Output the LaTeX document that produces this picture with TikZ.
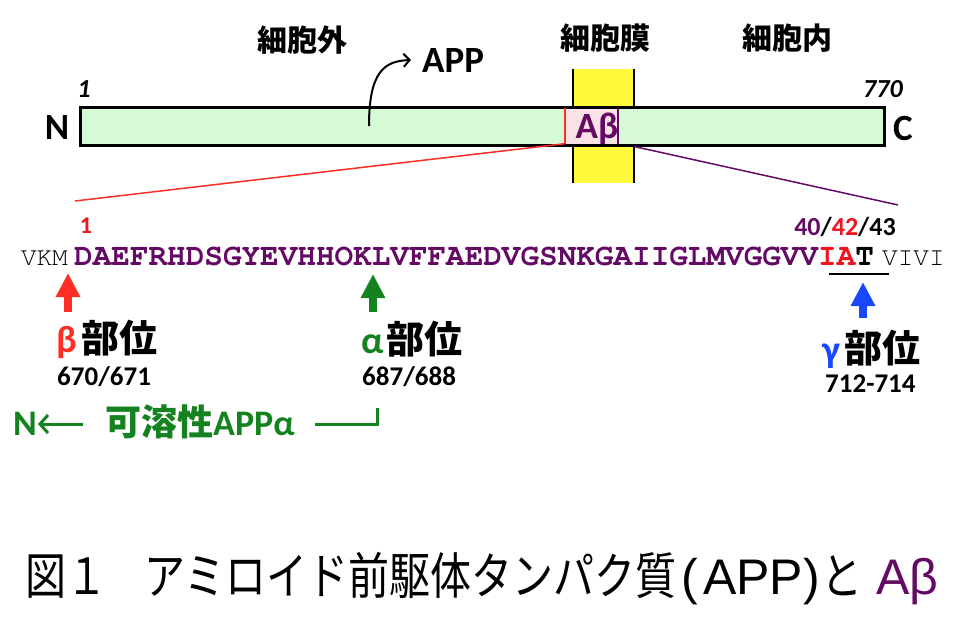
\documentclass[tikz,border=0pt]{standalone}
\usepackage{fontspec}
\usetikzlibrary{arrows.meta}
\setmainfont{Carlito}
\newfontfamily\jpfont{Noto Sans CJK JP}
\newfontfamily\capsans{Liberation Sans}
\newfontfamily\seqfont{texgyrecursor}[Extension=.otf, UprightFont=*-regular, BoldFont=*-bold]
\definecolor{barfill}{RGB}{214,250,214}
\definecolor{abfill}{RGB}{248,226,230}
\definecolor{memfill}{RGB}{255,250,60}
\definecolor{abpurple}{RGB}{100,10,100}
\definecolor{cutred}{RGB}{255,45,35}
\definecolor{seqred}{RGB}{240,20,30}
\definecolor{cutgreen}{RGB}{20,130,30}
\definecolor{cutblue}{RGB}{25,70,255}
\tikzset{
	every node/.style={
		inner sep=0pt,
		font=\bfseries
	},
	region/.style={
		font=\jpfont\bfseries\fontsize{30}{30}\selectfont
	},
	membrane/.style={
		shape=rectangle,
		minimum width=61pt,
		minimum height=114pt,
		fill=memfill
	},
	memline/.style={line width=2.5pt},
	appbar/.style={
		shape=rectangle,
		minimum width=804pt,
		minimum height=38pt,
		fill=barfill,
		draw,
		line width=3pt
	},
	abregion/.style={
		shape=rectangle,
		minimum width=53pt,
		minimum height=35pt,
		fill=abfill
	},
	bigname/.style={font=\bfseries\fontsize{37}{37}\selectfont},
	endnum/.style={font=\bfseries\itshape\fontsize{26}{26}\selectfont},
	seqbold/.style={font=\seqfont\bfseries\fontsize{31}{31}\selectfont},
	seqplain/.style={font=\seqfont\fontsize{26}{26}\selectfont},
	sitename/.style={font=\bfseries\fontsize{38}{38}\selectfont},
	greentext/.style={font=\bfseries\fontsize{36}{36}\selectfont, cutgreen},
	sitenum/.style={font=\bfseries\fontsize{27}{27}\selectfont},
	sitearrow/.style={-{Triangle[length=24pt,width=23pt]}, line width=8.5pt},
	curvearrow/.style={-{Straight Barb[length=6pt,width=13pt]}, line width=2pt},
	greenline/.style={cutgreen, line width=3pt},
}
\newcommand{\narrowjp}[1]{\scalebox{0.82}[1]{\jpfont #1}}

\begin{document}
\begin{tikzpicture}[x=1pt, y=-1pt]
\useasboundingbox (0,0) rectangle (959,622);

% membrane and APP bar
\node [membrane] (mem) at (603.5,126) {};
\draw [memline] (mem.north west) -- (mem.south west);
\draw [memline] (mem.north east) -- (mem.south east);
\node [appbar] (app) at (482,126) {};
\node [abregion] (abeta) at (591.5,126) {};
\draw [cutred, line width=2pt] (abeta.north west) -- (abeta.south west);
\draw [abpurple, line width=2pt] (abeta.north east) -- (abeta.south east);
\node [bigname, abpurple, anchor=base] (abtext) at (597,138) {Aβ};

\node [region] (outside) at (302,40) {細胞外};
\node [region] (membr) at (605,38) {細胞膜};
\node [region] (inside) at (787,38) {細胞内};

\node [bigname, anchor=base west] (appname) at (422,72) {APP};
\coordinate (curvefoot) at (369,126);
\draw [curvearrow] (curvefoot) .. controls (369,72) and (384,61) .. ([xshift=-11pt]appname.west);

\node [endnum, anchor=base] (first) at (84,97) {1};
\node [endnum, anchor=base] (last) at (883,97) {770};
\node [bigname, anchor=base] (nterm) at (57,139) {N};
\node [bigname, anchor=base] (cterm) at (903,140) {C};

% sequence
\node [seqplain, anchor=base east] (pre) at (68,265) {VKM};
\node [seqbold, anchor=base west] (seq) at (74,265)
	{\color{abpurple}DAEFRHDSGYEVHHOKLVFFAEDVGSNKGAIIGLMVGGVV\color{seqred}IA\color{black}T};
\node [seqplain, anchor=base west] (post) at (882,265) {VIVI};
\node [font=\bfseries\fontsize{24}{24}\selectfont, seqred, anchor=base] (seqone) at (86,233) {1};
\node [font=\bfseries\fontsize{26}{26}\selectfont, anchor=base] (ends) at (845,235)
	{\color{abpurple}40\color{black}/\color{seqred}42\color{black}/43};
\draw [line width=2.5pt] (829,274) -- (889,274);

\coordinate (seqstart) at (75,201);
\coordinate (seqend) at (898,205);
\draw [cutred, line width=1.5pt] (abeta.south west) -- (seqstart);
\draw [abpurple, line width=1.5pt] (app.south -| mem.east) -- (seqend);

% cleavage sites
\coordinate (bfoot) at (68,312);
\coordinate (bcut) at (68,273);
\coordinate (afoot) at (373,312);
\coordinate (acut) at (373,274);
\coordinate (gfoot) at (863,318);
\coordinate (gcut) at (863,282);
\draw [sitearrow, cutred] (bfoot) -- (bcut);
\draw [sitearrow, cutgreen] (afoot) -- (acut);
\draw [sitearrow, cutblue] (gfoot) -- (gcut);

\node [sitename, anchor=west] (bsite) at (56,339) {{\color{cutred}β}\hspace{5pt}{\jpfont 部位}};
\node [sitenum, anchor=base west] (bnum) at (57,385) {670/671};
\node [sitename, anchor=west] (asite) at (361,339) {{\color{cutgreen}α}\hspace{3pt}{\jpfont 部位}};
\node [sitenum, anchor=base west] (anum) at (362,385) {687/688};
\node [sitename, anchor=west] (gsite) at (822,349) {{\color{cutblue}γ}\hspace{5pt}{\jpfont 部位}};
\node [sitenum, anchor=base west] (gnum) at (825,392) {712-714};

% soluble APP alpha
\node [greentext, anchor=base west] (solN) at (13,435) {N};
\coordinate (arrstart) at (83,424);
\coordinate (arrend) at (38,424);
\draw [greenline, -{Straight Barb[length=8pt,width=18pt]}] (arrstart) -- (arrend);
\node [greentext, anchor=base west] (sappa) at (105,435) {{\jpfont 可溶性}APPα};
\coordinate (brstart) at (315,424);
\coordinate (brcorner) at (377,424);
\coordinate (brtop) at (377,408);
\draw [greenline] (brstart) -- (brcorner) -- (brtop);

% caption
\node [font=\mdseries\fontsize{50}{50}\selectfont, anchor=base west] (caption) at (25,594)
	{\narrowjp{図１}\hspace{-4pt}\narrowjp{　アミロイド前駆体タンパク質}{\capsans\hspace{5pt}(\hspace{5pt}APP)\hspace{2pt}}\narrowjp{と}{\capsans\ \color{abpurple}Aβ}};
\end{tikzpicture}
\end{document}
